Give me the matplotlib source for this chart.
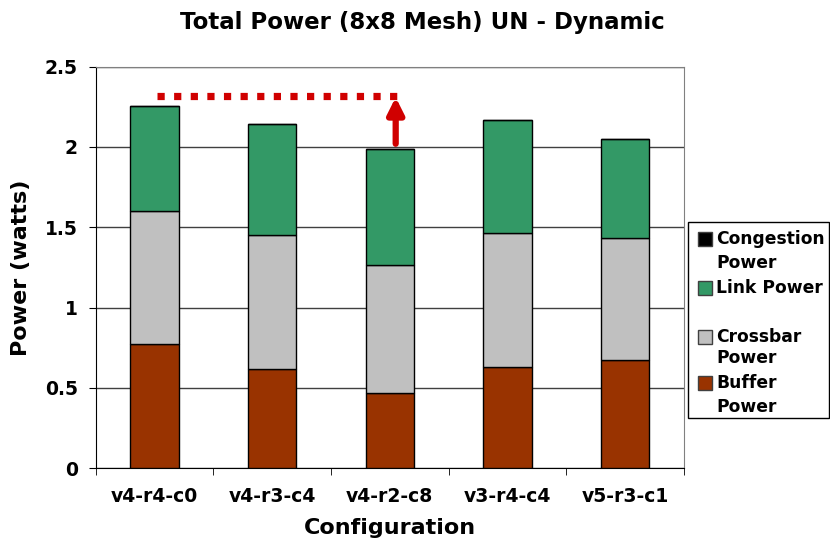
import numpy as np
import matplotlib
matplotlib.use('Agg')
import matplotlib.pyplot as plt
from matplotlib.patches import Rectangle

configs = ['v4-r4-c0', 'v4-r3-c4', 'v4-r2-c8', 'v3-r4-c4', 'v5-r3-c1']
buffer_pw = [0.77, 0.62, 0.465, 0.63, 0.67]
crossbar_pw = [0.83, 0.83, 0.80, 0.835, 0.765]
link_pw = [0.655, 0.695, 0.72, 0.705, 0.615]
congestion_pw = [0.0, 0.0, 0.0, 0.0, 0.0]

series = ['Congestion\nPower', 'Link Power', 'Crossbar\nPower', 'Buffer\nPower']
colors = ['#000000', '#339966', '#C0C0C0', '#993300']

plt.rcParams['font.family'] = ['DejaVu Sans']
plt.rcParams['font.weight'] = 'bold'

fig = plt.figure(figsize=(8.3, 5.5), dpi=100)
ax = fig.add_axes([0.1153, 0.149, 0.7087, 0.7297])

x = np.arange(len(configs))
w = 0.41
b = np.zeros(len(configs))
# stack bottom -> top
for vals, col in [(buffer_pw, colors[3]), (crossbar_pw, colors[2]),
                  (link_pw, colors[1]), (congestion_pw, colors[0])]:
    vals = np.array(vals)
    ax.bar(x, vals, w, bottom=b, color=col, edgecolor='black', linewidth=1, zorder=3)
    b += vals

ax.set_xlim(-0.5, len(configs) - 0.5)
ax.set_ylim(0, 2.5)
ax.set_yticks(np.arange(0, 2.51, 0.5))
ax.set_yticklabels(['0', '0.5', '1', '1.5', '2', '2.5'], fontsize=13.5, fontweight='bold')
ax.set_xticks(x)
ax.set_xticklabels(configs, fontsize=13.5, fontweight='bold')
ax.set_xticks(np.arange(-0.5, len(configs)), minor=True)
ax.tick_params(axis='x', which='major', length=0, pad=14)
ax.tick_params(axis='x', which='minor', length=5, color='black')
ax.tick_params(axis='y', length=5, pad=8)
ax.yaxis.grid(True, color='#404040', linewidth=1, zorder=0)
for s in ['top', 'right']:
    ax.spines[s].set_color('#808080')
ax.set_axisbelow(True)

ax.set_xlabel('Configuration', fontsize=16, fontweight='bold', labelpad=8)
ax.set_ylabel('Power (watts)', fontsize=16, fontweight='bold', labelpad=10)
fig.text(422 / 830, 1 - 22 / 550, 'Total Power (8x8 Mesh) UN - Dynamic',
         fontsize=16.5, fontweight='bold', ha='center', va='center')

# red dotted reference line and arrow
ax.plot([0.02, 2.12], [2.32, 2.32], color='#D00000', linewidth=5.2,
        linestyle=(0, (1, 1.3)), dash_capstyle='butt', zorder=4, clip_on=False)
ax.annotate('', xy=(2.05, 2.31), xytext=(2.05, 2.02),
            arrowprops=dict(arrowstyle='-|>', color='#D00000', lw=4.5,
                            mutation_scale=24, shrinkA=0, shrinkB=0), zorder=5)

# legend drawn by hand to mimic the wrapped layout
W, H = 830.0, 550.0
fig.patches.append(Rectangle((688 / W, 1 - 418 / H), 141 / W, 196 / H, transform=fig.transFigure,
                             facecolor='white', edgecolor='black', linewidth=1))
rows = [(239, 263), (288, None), (337, 358), (383, 407)]
for (y1, y2), lab, col in zip(rows, series, colors):
    fig.patches.append(Rectangle((698 / W, 1 - (y1 + 7) / H), 14 / W, 14 / H,
                                 transform=fig.transFigure, facecolor=col,
                                 edgecolor='#404040', linewidth=1))
    parts = lab.split('\n')
    fig.text(716 / W, 1 - y1 / H, parts[0], fontsize=12.3, fontweight='bold', va='center')
    if y2 is not None:
        fig.text(716 / W, 1 - y2 / H, parts[1], fontsize=12.3, fontweight='bold', va='center')

fig.savefig('out.png', dpi=100)
